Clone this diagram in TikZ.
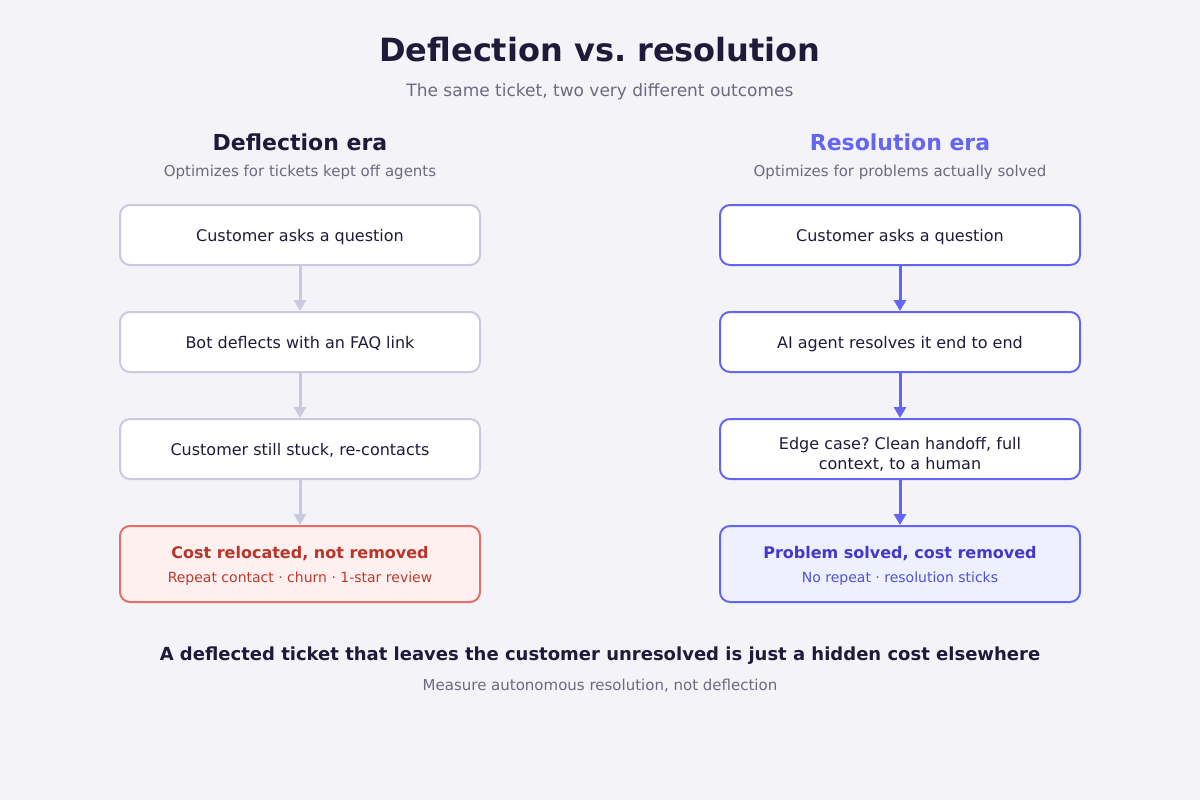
\documentclass[tikz,border=0pt]{standalone}
\usepackage{fontspec}
\setmainfont{DejaVu Sans}
\usetikzlibrary{arrows.meta,positioning}
\frenchspacing
\definecolor{bg}{HTML}{F4F3F8}
\definecolor{ink}{HTML}{1E1B3A}
\definecolor{muted}{HTML}{6B6B80}
\definecolor{lgray}{HTML}{C9CADF}
\definecolor{indigo}{HTML}{6366F1}
\definecolor{indigoDark}{HTML}{4338CA}
\definecolor{indigoSub}{HTML}{4F52D9}
\definecolor{redB}{HTML}{E07068}
\definecolor{redFill}{HTML}{FFF0F0}
\definecolor{redT}{HTML}{B8352A}
\definecolor{redS}{HTML}{C0392B}
\definecolor{blueFill}{HTML}{EEF0FF}
\tikzset{
  x=1pt,y=-1pt,
  box/.style={draw=lgray,line width=2pt,fill=white,rounded corners=10pt,minimum width=360pt,minimum height=60pt,inner sep=0pt,text=ink,font=\fontsize{16}{20}\selectfont,align=center,text depth=-1pt},
  rbox/.style={box,draw=indigo},
  endbox/.style={box,minimum height=76pt},
  larrow/.style={draw=lgray,line width=3pt,-{Triangle[width=12pt,length=11pt]}},
  rarrow/.style={draw=indigo,line width=3pt,-{Triangle[width=12pt,length=11pt]}},
  colhead/.style={font=\fontsize{22}{26}\selectfont\bfseries,anchor=base},
  colsub/.style={font=\fontsize{15}{18}\selectfont,text=muted,anchor=base},
}
\begin{document}
\begin{tikzpicture}
\useasboundingbox[fill=bg] (0,0) rectangle (1200,800);
\node[font=\fontsize{32}{38}\selectfont\bfseries,text=ink,anchor=base] (title) at (600,62) {Deflection vs. resolution};
\node[font=\fontsize{17}{20}\selectfont,text=muted,anchor=base] (sub) at (600,96) {The same ticket, two very different outcomes};
\node[colhead,text=ink] (lh) at (300,150) {Deflection era};
\node[colsub] (ls) at (300,176) {Optimizes for tickets kept off agents};
\node[colhead,text=indigo] (rh) at (900,150) {Resolution era};
\node[colsub] (rs) at (900,176) {Optimizes for problems actually solved};
% left
\node[box] (l1) at (300,235) {Customer asks a question};
\node[box] (l2) at (300,342) {Bot deflects with an FAQ link};
\node[box] (l3) at (300,449) {Customer still stuck, re-contacts};
\node[endbox,draw=redB,fill=redFill] (l4) at (300,564) {};
\node[font=\fontsize{16}{20}\selectfont\bfseries,text=redT,anchor=base] (l4t) at (300,558) {Cost relocated, not removed};
\node[font=\fontsize{14}{17}\selectfont,text=redS,anchor=base] (l4s) at (300,582) {Repeat contact · churn · 1-star review};
\draw[larrow] (l1) -- (l2);
\draw[larrow] (l2) -- (l3);
\draw[larrow] (l3) -- (l4);
% right
\node[rbox] (r1) at (900,235) {Customer asks a question};
\node[rbox] (r2) at (900,342) {AI agent resolves it end to end};
\node[rbox] (r3) at (900,449) {};
\node[font=\fontsize{16}{20}\selectfont,text=ink,anchor=base] (r3a) at (900,449) {Edge case? Clean handoff, full};
\node[font=\fontsize{16}{20}\selectfont,text=ink,anchor=base] (r3b) at (900,469) {context, to a human};
\node[endbox,draw=indigo,fill=blueFill] (r4) at (900,564) {};
\node[font=\fontsize{16}{20}\selectfont\bfseries,text=indigoDark,anchor=base] (r4t) at (900,558) {Problem solved, cost removed};
\node[font=\fontsize{14}{17}\selectfont,text=indigoSub,anchor=base] (r4s) at (900,582) {No repeat · resolution sticks};
\draw[rarrow] (r1) -- (r2);
\draw[rarrow] (r2) -- (r3);
\draw[rarrow] (r3) -- (r4);
% bottom
\node[font=\fontsize{18}{22}\selectfont\bfseries,text=ink,anchor=base] (b1) at (600,660) {A deflected ticket that leaves the customer unresolved is just a hidden cost elsewhere};
\node[font=\fontsize{15}{18}\selectfont,text=muted,anchor=base] (b2) at (600,690) {Measure autonomous resolution, not deflection};
\end{tikzpicture}
\end{document}
